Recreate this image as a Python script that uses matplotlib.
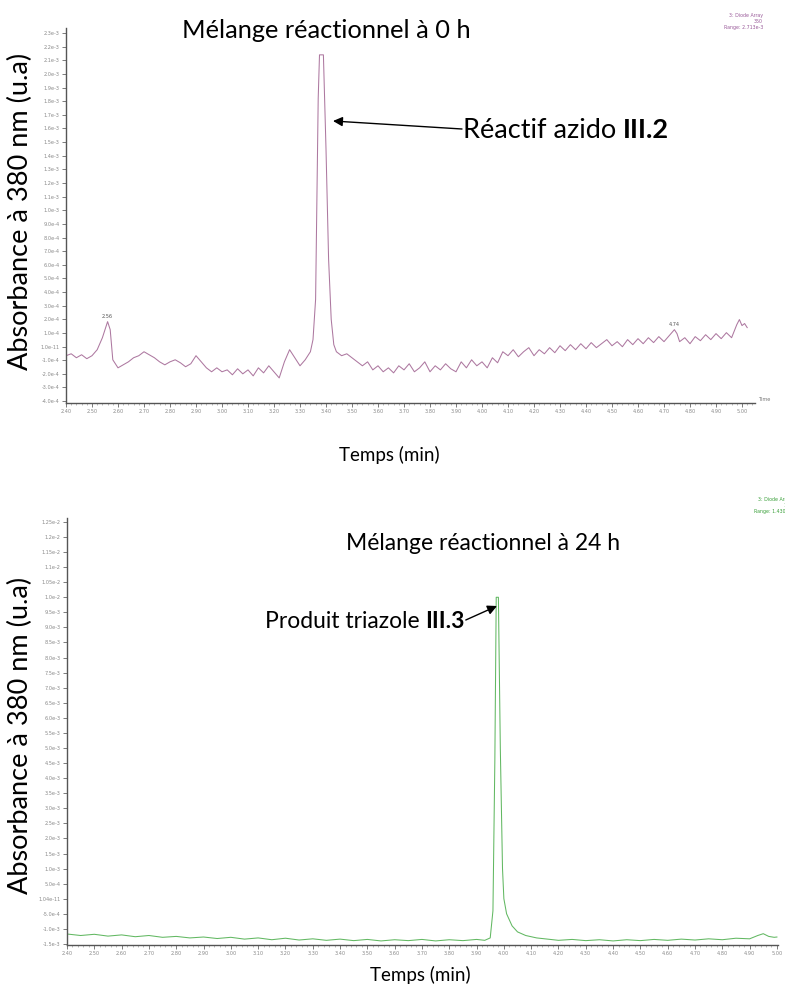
import matplotlib
matplotlib.use("Agg")
import matplotlib.pyplot as plt
from matplotlib.ticker import MultipleLocator, FixedLocator
from matplotlib.patches import FancyArrowPatch

# ---------------- data ----------------
# Top chromatogram (0 h): time (min) and absorbance in units of 1e-4
top_time = [2.40, 2.42, 2.44, 2.46, 2.48, 2.50, 2.52, 2.54, 2.56, 2.57,
            2.58, 2.60, 2.62, 2.64, 2.66, 2.68, 2.70, 2.72, 2.74, 2.76,
            2.78, 2.80, 2.82, 2.84, 2.86, 2.88, 2.90, 2.92, 2.94, 2.96,
            2.98, 3.00, 3.02, 3.04, 3.06, 3.08, 3.10, 3.12, 3.14, 3.16,
            3.18, 3.20, 3.22, 3.24, 3.26, 3.28, 3.30, 3.32, 3.34, 3.35,
            3.36, 3.365, 3.37, 3.375, 3.39, 3.40, 3.41, 3.42, 3.43, 3.44,
            3.46, 3.48, 3.50, 3.52, 3.54, 3.56, 3.58, 3.60, 3.62, 3.64,
            3.66, 3.68, 3.70, 3.72, 3.74, 3.76, 3.78, 3.80, 3.82, 3.84,
            3.86, 3.88, 3.90, 3.92, 3.94, 3.96, 3.98, 4.00, 4.02, 4.04,
            4.06, 4.08, 4.10, 4.12, 4.14, 4.16, 4.18, 4.20, 4.22, 4.24,
            4.26, 4.28, 4.30, 4.32, 4.34, 4.36, 4.38, 4.40, 4.42, 4.44,
            4.46, 4.48, 4.50, 4.52, 4.54, 4.56, 4.58, 4.60, 4.62, 4.64,
            4.66, 4.68, 4.70, 4.72, 4.74, 4.75, 4.76, 4.78, 4.80, 4.82,
            4.84, 4.86, 4.88, 4.90, 4.92, 4.94, 4.96, 4.98, 4.99, 5.00,
            5.01, 5.02]
top_abs_e4 = [-0.67, -0.53, -0.82, -0.60, -0.89, -0.67, -0.23, 0.65, 1.83, 1.24,
              -0.97, -1.56, -1.34, -1.12, -0.82, -0.67, -0.38, -0.60, -0.82, -1.12,
              -1.34, -1.12, -0.97, -1.19, -1.48, -1.26, -0.67, -1.12, -1.56, -1.85,
              -1.56, -1.85, -1.71, -2.07, -1.63, -2.00, -1.71, -2.15, -1.56, -1.93,
              -1.41, -1.85, -2.30, -1.12, -0.23, -0.82, -1.41, -0.97, -0.38, 0.51,
              3.46, 10.8, 18.2, 21.4, 21.4, 14.5, 6.4, 2.0, 0.14, -0.38,
              -0.67, -0.53, -0.82, -1.12, -1.41, -1.12, -1.71, -1.41, -1.85, -1.56,
              -1.93, -1.41, -1.71, -1.26, -1.85, -1.56, -1.12, -1.85, -1.41, -1.71,
              -1.26, -1.63, -1.85, -1.12, -1.56, -0.97, -1.41, -1.12, -1.56, -0.82,
              -1.19, -0.38, -0.67, -0.23, -0.75, -0.38, -0.08, -0.67, -0.23, -0.53,
              -0.08, -0.45, 0.06, -0.30, 0.14, -0.23, 0.21, -0.16, 0.29, -0.08,
              0.21, 0.51, 0.06, 0.36, -0.01, 0.51, 0.14, 0.58, 0.21, 0.65,
              0.29, 0.73, 0.36, 0.80, 1.24, 0.95, 0.36, 0.65, 0.21, 0.73,
              0.43, 0.87, 0.51, 0.95, 0.58, 1.02, 0.65, 1.61, 1.98, 1.54,
              1.69, 1.39]

# Bottom chromatogram (24 h): time (min) and absorbance in units of 1e-3
bot_time = [2.40, 2.45, 2.50, 2.55, 2.60, 2.65, 2.70, 2.75, 2.80, 2.85,
            2.90, 2.95, 3.00, 3.05, 3.10, 3.15, 3.20, 3.25, 3.30, 3.35,
            3.40, 3.45, 3.50, 3.55, 3.60, 3.65, 3.70, 3.75, 3.80, 3.85,
            3.90, 3.93, 3.95, 3.96, 3.967, 3.972, 3.98, 3.987, 3.995, 4.00,
            4.01, 4.03, 4.05, 4.08, 4.12, 4.15, 4.20, 4.25, 4.30, 4.35,
            4.40, 4.45, 4.50, 4.55, 4.60, 4.65, 4.70, 4.75, 4.80, 4.85,
            4.90, 4.93, 4.95, 4.97, 4.99, 5.00]
bot_abs_e3 = [-1.17, -1.22, -1.18, -1.24, -1.20, -1.26, -1.22, -1.28, -1.25, -1.30,
              -1.27, -1.32, -1.28, -1.34, -1.30, -1.36, -1.31, -1.37, -1.33, -1.38,
              -1.34, -1.39, -1.35, -1.40, -1.36, -1.39, -1.35, -1.40, -1.36, -1.39,
              -1.35, -1.38, -1.30, -0.40, 4.60, 10.0, 10.0, 5.00, 1.00, 0.00,
              -0.50, -0.90, -1.10, -1.22, -1.30, -1.33, -1.38, -1.35, -1.39, -1.36,
              -1.40, -1.36, -1.39, -1.35, -1.38, -1.34, -1.37, -1.33, -1.36, -1.31,
              -1.33, -1.22, -1.16, -1.25, -1.28, -1.27]

top_ytick_vals_e4 = list(range(23, -5, -1))
top_ytick_labels = ["2.3e-3", "2.2e-3", "2.1e-3", "2.0e-3", "1.9e-3", "1.8e-3", "1.7e-3",
                    "1.6e-3", "1.5e-3", "1.4e-3", "1.3e-3", "1.2e-3", "1.1e-3", "1.0e-3",
                    "9.0e-4", "8.0e-4", "7.0e-4", "6.0e-4", "5.0e-4", "4.0e-4", "3.0e-4",
                    "2.0e-4", "1.0e-4", "1.0e-11", "-1.0e-4", "-2.0e-4", "-3.0e-4", "-4.0e-4"]
bot_ytick_vals_e3 = [12.5, 12.0, 11.5, 11.0, 10.5, 10.0, 9.5, 9.0, 8.5, 8.0, 7.5, 7.0,
                     6.5, 6.0, 5.5, 5.0, 4.5, 4.0, 3.5, 3.0, 2.5, 2.0, 1.5, 1.0, 0.5,
                     0.0, -0.5, -1.0, -1.5]
bot_ytick_labels = ["1.25e-2", "1.2e-2", "1.15e-2", "1.1e-2", "1.05e-2", "1.0e-2", "9.5e-3",
                    "9.0e-3", "8.5e-3", "8.0e-3", "7.5e-3", "7.0e-3", "6.5e-3", "6.0e-3",
                    "5.5e-3", "5.0e-3", "4.5e-3", "4.0e-3", "3.5e-3", "3.0e-3", "2.5e-3",
                    "2.0e-3", "1.5e-3", "1.0e-3", "5.0e-4", "1.04e-11", "-5.0e-4",
                    "-1.0e-3", "-1.5e-3"]
xtick_labels = ["2.40", "2.50", "2.60", "2.70", "2.80", "2.90", "3.00", "3.10", "3.20",
                "3.30", "3.40", "3.50", "3.60", "3.70", "3.80", "3.90", "4.00", "4.10",
                "4.20", "4.30", "4.40", "4.50", "4.60", "4.70", "4.80", "4.90", "5.00"]
xtick_vals = [float(s) for s in xtick_labels]

# ---------------- figure ----------------
W, H = 785, 990
fig = plt.figure(figsize=(W / 100, H / 100), dpi=100)
FONT = ["Lato", "DejaVu Sans"]
tick_col = "#8a8a8a"

def px_axes(x0, y0, x1, y1):
    return fig.add_axes([x0 / W, 1 - y1 / H, (x1 - x0) / W, (y1 - y0) / H])

def style(ax):
    for s in ("top", "right"):
        ax.spines[s].set_visible(False)
    for s in ("left", "bottom"):
        ax.spines[s].set_color("#555555")
        ax.spines[s].set_linewidth(1.0)
    ax.tick_params(which="major", length=3, width=0.6, color="#666666",
                   labelsize=3.6, labelcolor=tick_col, pad=1.5)
    ax.tick_params(which="minor", length=1.5, width=0.4, color="#888888")
    ax.set_facecolor("none")

# Top chart
ax1 = px_axes(66, 28, 755, 403)
ax1.plot(top_time, [v * 1e-4 for v in top_abs_e4], color="#ad78a0", lw=0.75)
ax1.set_xlim(2.40, 5.05)
ax1.set_ylim(-4.14e-4, 2.337e-3)
ax1.yaxis.set_major_locator(FixedLocator([v * 1e-4 for v in top_ytick_vals_e4]))
ax1.set_yticklabels(top_ytick_labels)
ax1.xaxis.set_major_locator(FixedLocator(xtick_vals))
ax1.set_xticklabels(xtick_labels)
ax1.xaxis.set_minor_locator(MultipleLocator(0.02))
style(ax1)
ax1.text(2.56, 2.1e-4, "2.56", fontsize=3.6, color="#555555", ha="center")
ax1.text(4.74, 1.5e-4, "4.74", fontsize=3.6, color="#555555", ha="center")
ax1.text(5.06, -4.0e-4, "Time", fontsize=3.6, color="#777777", ha="left")

# Bottom chart
ax2 = px_axes(67, 518, 778, 945)
ax2.plot(bot_time, [v * 1e-3 for v in bot_abs_e3], color="#62b862", lw=0.75)
ax2.set_xlim(2.40, 5.004)
ax2.set_ylim(-1.535e-3, 1.263e-2)
ax2.yaxis.set_major_locator(FixedLocator([v * 1e-3 for v in bot_ytick_vals_e3]))
ax2.set_yticklabels(bot_ytick_labels)
ax2.xaxis.set_major_locator(FixedLocator(xtick_vals))
ax2.set_xticklabels(xtick_labels)
ax2.xaxis.set_minor_locator(MultipleLocator(0.02))
style(ax2)

# Instrument legends
fig.text(763 / W, 1 - 13 / H, "3: Diode Array\n350\nRange: 2.713e-3", fontsize=3.4,
         color="#9a5b9a", ha="right", va="top", linespacing=1.3)
fig.text(786 / W, 1 - 497 / H, "3: Diode Arr\n1\nRange: 1.430", fontsize=3.4,
         color="#3aa03a", ha="right", va="top", linespacing=1.3)

def label(x, y, s, size, **kw):
    return fig.text(x / W, 1 - y / H, s, fontsize=size, family=FONT, **kw)

label(326, 30, "Mélange réactionnel à 0 h", 18.3, ha="center", va="center")
label(483, 543, "Mélange réactionnel à 24 h", 16.5, ha="center", va="center")
label(20, 211, "Absorbance à 380 nm (u.a)", 19.5, rotation=90, ha="center", va="center")
label(20, 735, "Absorbance à 380 nm (u.a)", 19.5, rotation=90, ha="center", va="center")
label(389, 455, "Temps (min)", 13.5, ha="center", va="center")
label(420, 975, "Temps (min)", 13.5, ha="center", va="center")

fig.canvas.draw()
renderer = fig.canvas.get_renderer()

def two_part(x, y, s1, s2, size):
    t1 = label(x, y, s1, size, ha="left", va="center")
    bb = t1.get_window_extent(renderer)
    t2 = fig.text(bb.x1 / W, 1 - y / H, s2, fontsize=size, family=FONT, weight="bold",
                  ha="left", va="center")
    return t2.get_window_extent(renderer)

two_part(463, 130, "Réactif azido ", "III.2", 19.5)
fig.add_artist(FancyArrowPatch((462 / W, 1 - 129 / H), (333 / W, 1 - 121 / H),
                               transform=fig.transFigure, arrowstyle="-|>",
                               mutation_scale=14, lw=1.0, color="black",
                               shrinkA=0, shrinkB=0))

bb = two_part(265, 621, "Produit triazole ", "III.3", 16.5)
fig.add_artist(FancyArrowPatch((bb.x1 / W + 0.001, 1 - 620 / H), (497 / W, 1 - 606 / H),
                               transform=fig.transFigure, arrowstyle="-|>",
                               mutation_scale=14, lw=1.0, color="black",
                               shrinkA=0, shrinkB=0))

fig.savefig("out.png", dpi=100)
